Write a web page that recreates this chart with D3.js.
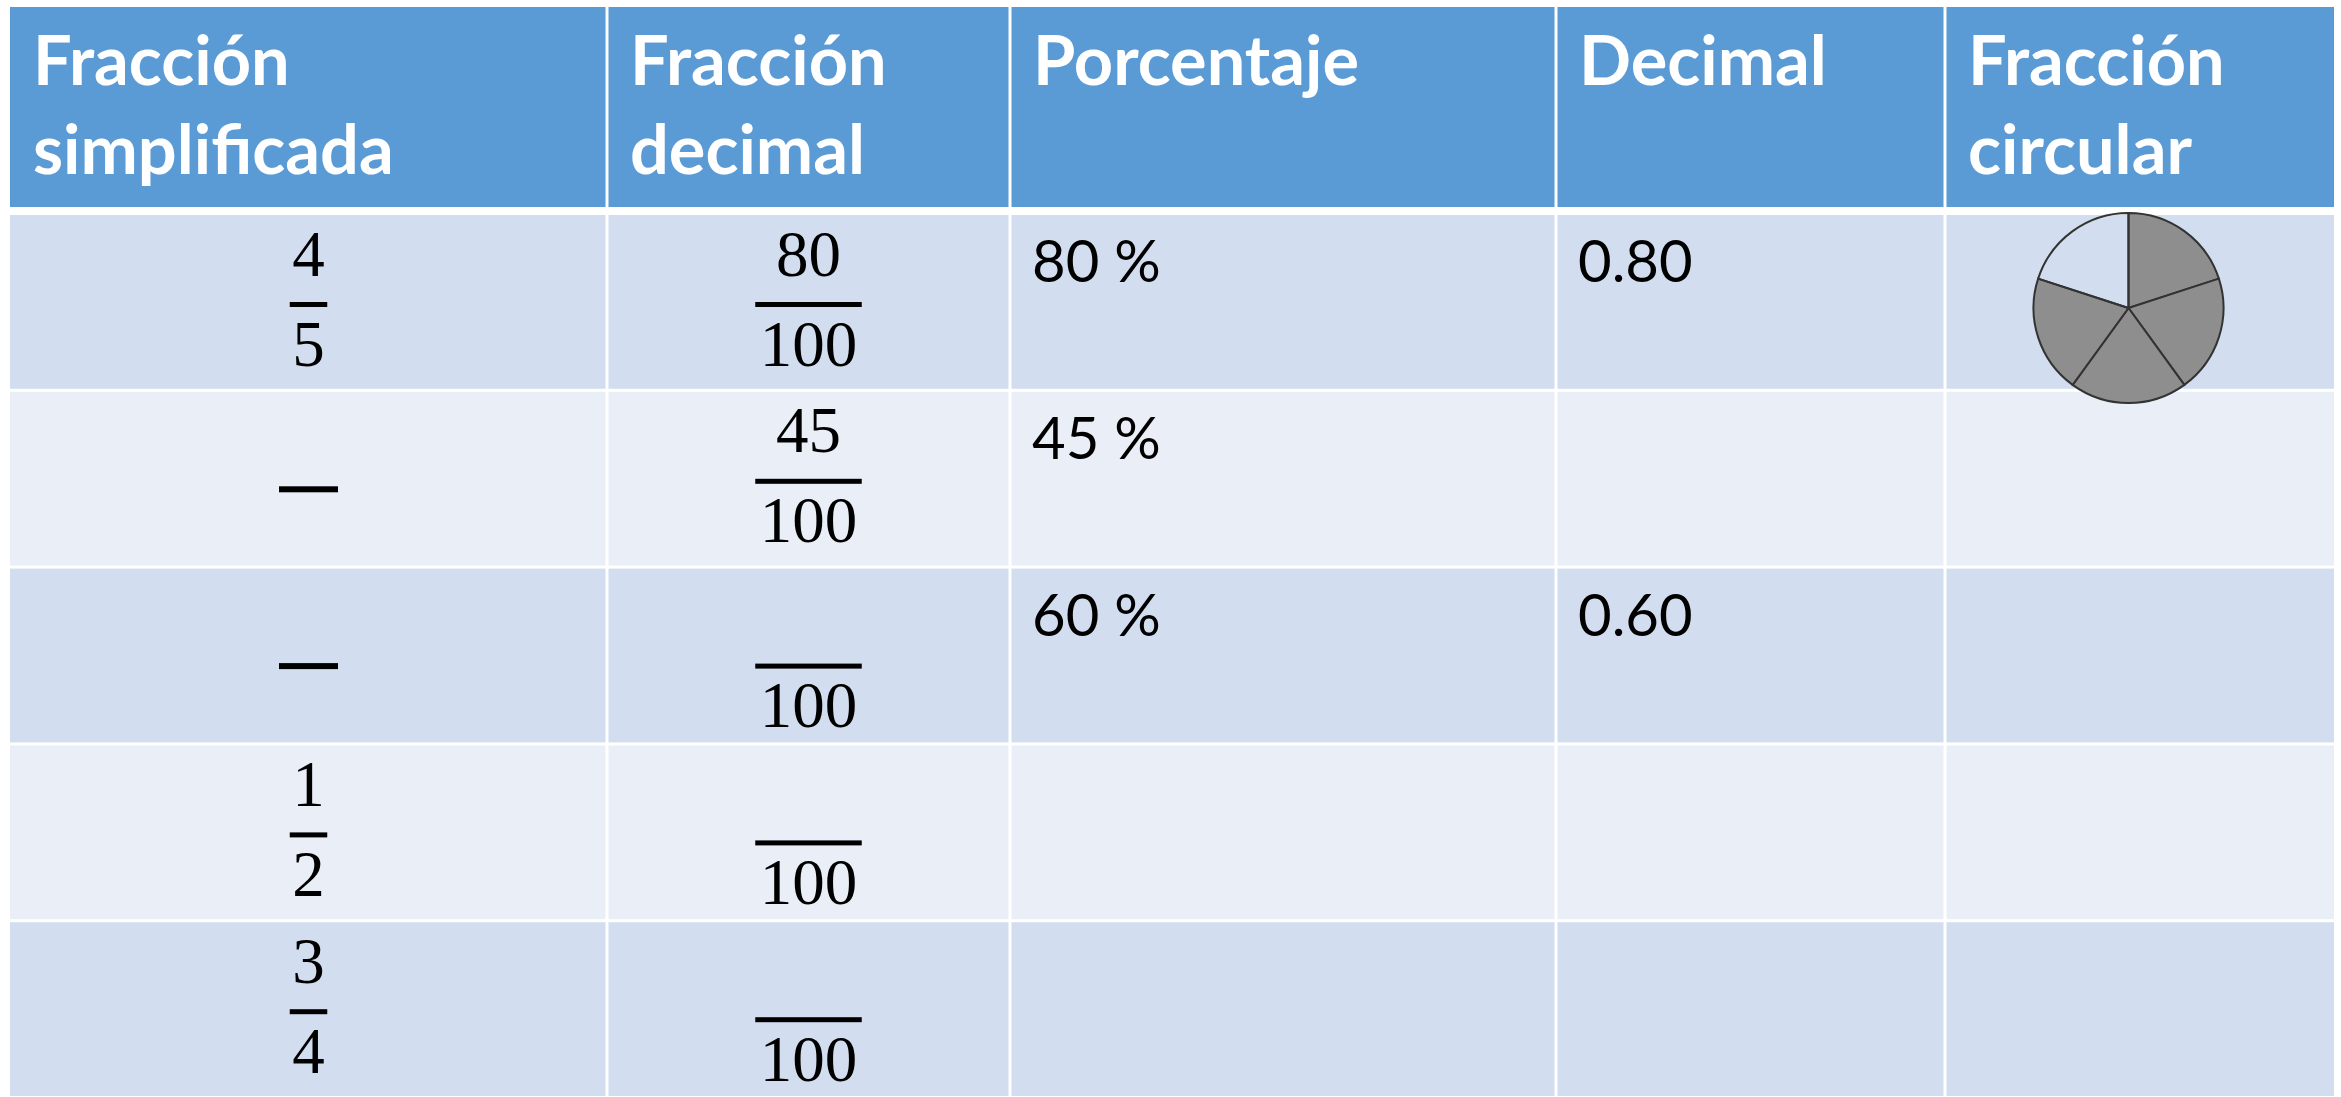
<!DOCTYPE html>
<html>
<head>
<meta charset="utf-8">
<script src="https://cdn.jsdelivr.net/npm/d3@7"></script>
<style>
  html, body { margin: 0; padding: 0; background: #ffffff; }
  svg { display: block; }
</style>
</head>
<body>
<svg id="chart" width="2341" height="1097"></svg>
<script>
// ---- data ----
const headerLines = [
  ["Fracción", "simplificada"],
  ["Fracción", "decimal"],
  ["Porcentaje"],
  ["Decimal"],
  ["Fracción", "circular"]
];
const simplifiedNum = ["4", "", "", "1", "3"];
const simplifiedDen = ["5", "", "", "2", "4"];
const decimalFracNum = ["80", "45", "", "", ""];
const decimalFracDen = ["100", "100", "100", "100", "100"];
const percentages = ["80 %", "45 %", "60 %", "", ""];
const decimals = ["0.80", "", "0.60", "", ""];
const circleParts = [5, 0, 0, 0, 0];
const circleShaded = [4, 0, 0, 0, 0];
const rowIds = [0, 1, 2, 3, 4];

// ---- layout ----
const colEdges = [10, 607, 1010, 1556, 1945, 2334];
const headerTop = 7, headerBottom = 207;
const bodyTop = 215, bodyBottom = 1096;

const svg = d3.select("#chart");

const yRow = d3.scaleBand().domain(rowIds).range([bodyTop, bodyBottom]).paddingInner(0.017);
const cols = d3.range(5).map(i => ({ i, x0: colEdges[i], x1: colEdges[i + 1] }));
const gap = 1.5;

// header cells
svg.append("g").selectAll("rect").data(cols).join("rect")
  .attr("x", d => d.x0 + (d.i === 0 ? 0 : gap))
  .attr("y", headerTop)
  .attr("width", d => d.x1 - d.x0 - (d.i === 0 ? 0 : gap) - (d.i === 4 ? 0 : gap))
  .attr("height", headerBottom - headerTop)
  .attr("fill", "#5B9BD5");

// header text
const ht = svg.append("g")
  .attr("font-family", "Lato, 'Open Sans', sans-serif")
  .attr("font-weight", 700)
  .attr("font-size", 68.5)
  .attr("fill", "#ffffff");
cols.forEach(c => {
  const t = ht.append("text").attr("x", c.x0 + 23).attr("y", headerTop + 78);
  headerLines[c.i].forEach((line, k) => {
    t.append("tspan").attr("x", c.x0 + 23).attr("dy", k === 0 ? 0 : 89).text(line);
  });
});

// body cells
const cells = [];
rowIds.forEach(r => cols.forEach(c => cells.push({ r, c })));
svg.append("g").selectAll("rect").data(cells).join("rect")
  .attr("x", d => d.c.x0 + (d.c.i === 0 ? 0 : gap))
  .attr("y", d => yRow(d.r))
  .attr("width", d => d.c.x1 - d.c.x0 - (d.c.i === 0 ? 0 : gap) - (d.c.i === 4 ? 0 : gap))
  .attr("height", yRow.bandwidth())
  .attr("fill", d => d.r % 2 === 0 ? "#D2DEEF" : "#EAEFF7");

// fractions
const fracFont = "'Liberation Serif', 'Times New Roman', serif";
const fracSize = 65;
const digitW = 0.5 * fracSize;
function drawFraction(g, cx, top, num, den) {
  const shift = num ? 0 : 8;
  const barY = top + 89.5 + shift;
  const len = Math.max(num.length, den.length);
  const barW = len === 0 ? 59 : len * digitW + (len === 1 ? 5 : 9);
  g.append("rect")
    .attr("x", cx - barW / 2).attr("y", barY - (len === 0 ? 3 : 2.5))
    .attr("width", barW).attr("height", len === 0 ? 6 : 5)
    .attr("fill", "#000");
  if (num) g.append("text").attr("x", cx).attr("y", barY - 29).attr("text-anchor", "middle").text(num);
  if (den) g.append("text").attr("x", cx).attr("y", barY + 61).attr("text-anchor", "middle").text(den);
}
const fg = svg.append("g")
  .attr("font-family", fracFont).attr("font-size", fracSize).attr("fill", "#000");
rowIds.forEach(r => {
  const top = yRow(r);
  drawFraction(fg, (colEdges[0] + colEdges[1]) / 2, top, simplifiedNum[r], simplifiedDen[r]);
  drawFraction(fg, (colEdges[1] + colEdges[2]) / 2, top, decimalFracNum[r], decimalFracDen[r]);
});

// plain text cells
const tg = svg.append("g")
  .attr("font-family", "Lato, 'Open Sans', sans-serif")
  .attr("font-size", 58).attr("fill", "#000");
tg.selectAll("text.pct").data(rowIds.filter(r => percentages[r])).join("text")
  .attr("class", "pct")
  .attr("x", colEdges[2] + 22).attr("y", r => yRow(r) + 67)
  .text(r => percentages[r]);
tg.selectAll("text.dec").data(rowIds.filter(r => decimals[r])).join("text")
  .attr("class", "dec")
  .attr("x", colEdges[3] + 22).attr("y", r => yRow(r) + 67)
  .text(r => decimals[r]);

// circular fraction
const pieR = 95;
const arc = d3.arc().innerRadius(0).outerRadius(pieR);
rowIds.filter(r => circleParts[r] > 0).forEach(r => {
  const parts = d3.range(circleParts[r]).map(k => ({ k, v: 1 }));
  const pie = d3.pie().value(d => d.v).sort(null)(parts);
  const cx = (colEdges[4] + colEdges[5]) / 2 - 11;
  const cy = yRow(r) + 93;
  svg.append("g").attr("transform", `translate(${cx},${cy})`)
    .selectAll("path").data(pie).join("path")
    .attr("d", arc)
    .attr("fill", d => d.data.k < circleShaded[r] ? "#8E8E8E" : "none")
    .attr("stroke", "#333333")
    .attr("stroke-width", 2);
});
</script>
</body>
</html>
